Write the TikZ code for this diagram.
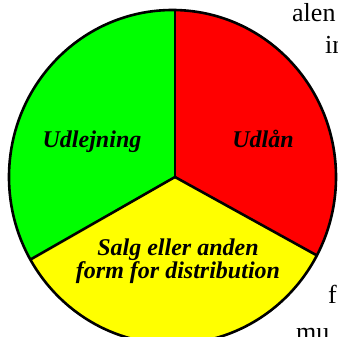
\documentclass[tikz,border=0pt]{standalone}
\usepackage{fontspec}
\setmainfont{Liberation Serif}
\usetikzlibrary{calc}

\definecolor{piegreen}{RGB}{0,255,0}
\definecolor{piered}{RGB}{255,0,0}
\definecolor{pieyellow}{RGB}{255,255,0}

\begin{document}
\begin{tikzpicture}[x = 1pt, y = -1pt,
    outline/.style = {black, line width = 2.6pt, line join = round},
    sectortext/.style = {align = center, anchor = base, inner sep = 0pt,
        font = \fontsize{24}{23}\selectfont\bfseries\itshape},
    bgtext/.style = {anchor = base west, inner sep = 0pt,
        font = \fontsize{26}{26}\selectfont}]
            \useasboundingbox (0, 0) rectangle (338, 337);
            \clip (0, 0) rectangle (338, 337);

            \coordinate (origin) at (175, 177);
            \coordinate (pie_centre) at (172.5, 177);
            \coordinate (pie_top) at (175, 10);
            \coordinate (pie_left) at (30.5, 259.5);
            \coordinate (pie_right) at (317, 255.5);

            % sectors, clipped to the pie
            \begin{scope}
                \clip (pie_centre) ellipse [x radius = 163.5, y radius = 167];
                \fill[piegreen] (origin) -- ($(origin)!1.3!(pie_top)$) -- (-20, -20) -- ($(origin)!1.3!(pie_left)$) -- cycle;
                \fill[piered] (origin) -- ($(origin)!1.3!(pie_top)$) -- (360, -20) -- ($(origin)!1.3!(pie_right)$) -- cycle;
                \fill[pieyellow] (origin) -- ($(origin)!1.3!(pie_left)$) -- (-20, 400) -- (360, 400) -- ($(origin)!1.3!(pie_right)$) -- cycle;
            \end{scope}

            \draw[outline] (origin) -- (pie_top);
            \draw[outline] (origin) -- (pie_left);
            \draw[outline] (origin) -- (pie_right);
            \draw[outline] (pie_centre) ellipse [x radius = 163.5, y radius = 167];

            \node[sectortext] (udlejning) at (92, 148) {Udlejning};
            \node[sectortext] (udlaan) at (263, 148) {Udlån};
            \node[sectortext] (salg) at (178, 278) {Salg eller anden\\form for distribution};

            % surrounding text
            \node[bgtext] (alen) at (292, 22) {alen};
            \node[bgtext] (in) at (325, 54) {in};
            \node[bgtext] (f) at (328, 303) {f};
            \node[bgtext] (mu) at (296, 340) {mu};
        \end{tikzpicture}
\end{document}
